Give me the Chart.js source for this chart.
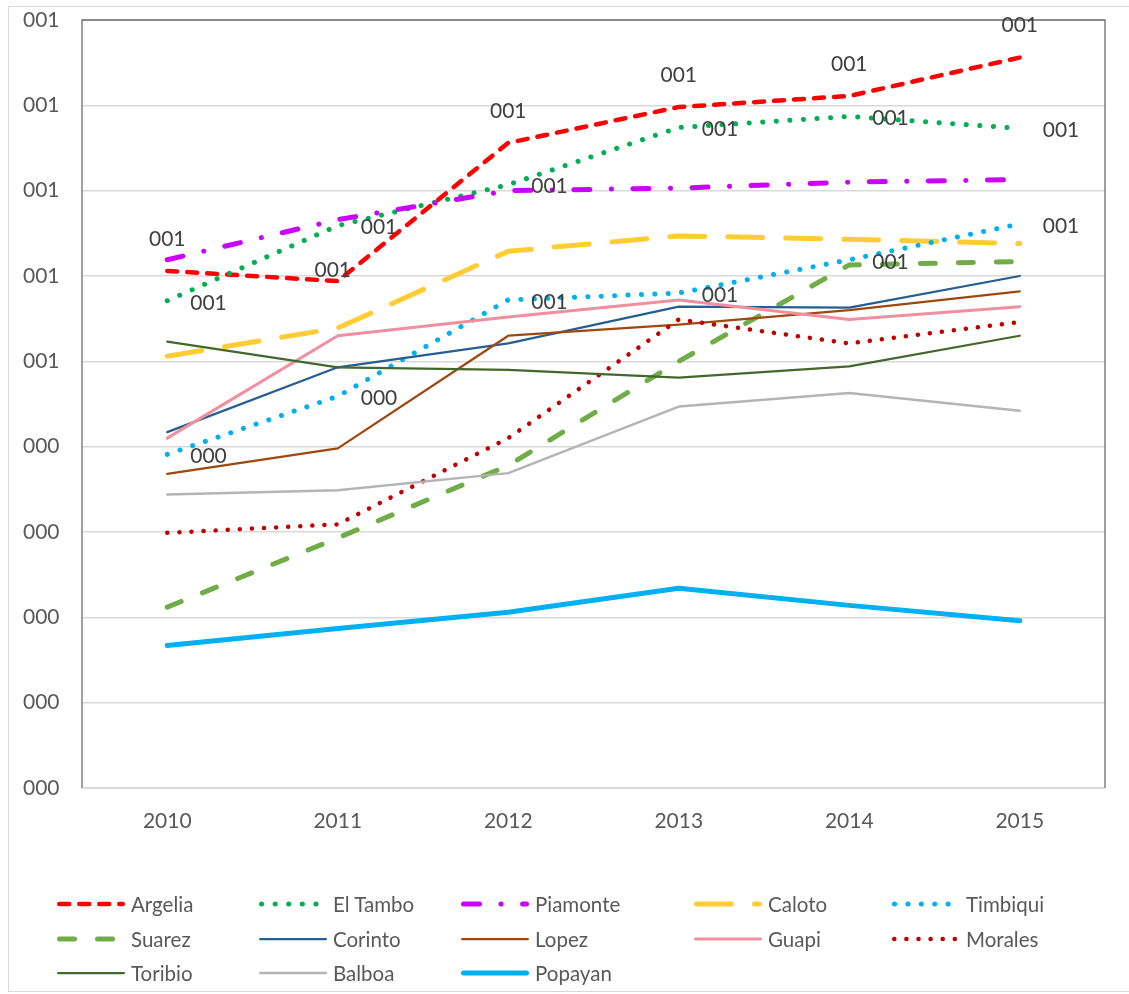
<!DOCTYPE html>
<html>
<head>
<meta charset="utf-8">
<script src="https://cdn.jsdelivr.net/npm/chart.js@4/dist/chart.umd.min.js"></script>
<style>
  html, body { margin: 0; padding: 0; background: #fff; }
  body { width: 1129px; height: 994px; position: relative; overflow: hidden; font-family: Lato, "Open Sans", sans-serif; }
  #frame { position: absolute; left: 8px; top: 6px; width: 1140px; height: 986px; border: 1px solid #D9D9D9; box-sizing: border-box; }
  #wrap { position: absolute; left: 0; top: 0; width: 1129px; height: 994px; }
  .leg { position: absolute; height: 24px; display: flex; align-items: center; color: #595959; font-size: 20.5px; white-space: nowrap; }
  .leg svg { margin-right: 5px; flex: none; }
</style>
</head>
<body>
<div id="frame"></div>
<div id="wrap"><canvas id="c" width="1129" height="994"></canvas></div>
<div id="legend"></div>
<script>
const years = ['2010', '2011', '2012', '2013', '2014', '2015'];
const yTickLabels = ['000', '000', '000', '000', '000', '001', '001', '001', '001', '001'];

const argelia  = [0.606, 0.594, 0.756, 0.798, 0.811, 0.856];
const elTambo  = [0.571, 0.659, 0.707, 0.774, 0.787, 0.773];
const piamonte = [0.619, 0.666, 0.700, 0.703, 0.710, 0.713];
const caloto   = [0.506, 0.539, 0.629, 0.647, 0.643, 0.638];
const timbiqui = [0.391, 0.459, 0.572, 0.580, 0.619, 0.661];
const suarez   = [0.212, 0.293, 0.378, 0.500, 0.613, 0.617];
const corinto  = [0.417, 0.493, 0.521, 0.564, 0.563, 0.600];
const lopez    = [0.368, 0.398, 0.530, 0.543, 0.560, 0.582];
const guapi    = [0.410, 0.530, 0.552, 0.572, 0.549, 0.564];
const morales  = [0.299, 0.309, 0.410, 0.549, 0.521, 0.546];
const toribio  = [0.523, 0.493, 0.490, 0.481, 0.494, 0.530];
const balboa   = [0.344, 0.349, 0.369, 0.447, 0.463, 0.442];
const popayan  = [0.167, 0.187, 0.206, 0.234, 0.214, 0.196];

const seriesNames = ['Argelia','El Tambo','Piamonte','Caloto','Timbiqui','Suarez','Corinto','Lopez','Guapi','Morales','Toribio','Balboa','Popayan'];
const seriesData = [argelia, elTambo, piamonte, caloto, timbiqui, suarez, corinto, lopez, guapi, morales, toribio, balboa, popayan];

const styles = [
  { color: '#FF0000', width: 4.5, dash: [10, 10] },
  { color: '#00B050', width: 5,   dash: [0.1, 13.5] },
  { color: '#CC00FF', width: 5,   dash: [16, 21.5, 0.1, 21.5] },
  { color: '#FFCC33', width: 5,   dash: [35, 23] },
  { color: '#00B0F0', width: 5,   dash: [0.1, 13.3] },
  { color: '#70AD47', width: 5,   dash: [15, 23] },
  { color: '#255E91', width: 2.25, dash: [] },
  { color: '#9E480E', width: 2.25, dash: [] },
  { color: '#EF8FA0', width: 3,   dash: [] },
  { color: '#C00000', width: 4.5, dash: [0.1, 12] },
  { color: '#43682B', width: 2.25, dash: [] },
  { color: '#B4B4B4', width: 2.5, dash: [] },
  { color: '#00B0F0', width: 5,   dash: [] }
];

// data-label placement per series (style only)
const labelSetup = {
  0: { pos: 'above', overrides: { 1: [-5, -11] } },
  1: { pos: 'right' },
  4: { pos: 'right' }
};

const datasets = seriesNames.map((name, i) => ({
  label: name,
  data: seriesData[i],
  borderColor: styles[i].color,
  backgroundColor: styles[i].color,
  borderWidth: styles[i].width,
  borderDash: styles[i].dash,
  borderCapStyle: 'round',
  borderJoinStyle: 'round',
  pointRadius: 0,
  pointHoverRadius: 0,
  tension: 0,
  fill: false,
  order: -i
}));

const frameLines = {
  id: 'frameLines',
  beforeDatasetsDraw(chart) {
    const a = chart.chartArea, ctx = chart.ctx;
    ctx.save();
    ctx.strokeStyle = '#D9D9D9';
    ctx.lineWidth = 1.5;
    ctx.beginPath();
    ctx.moveTo(a.left, a.bottom); ctx.lineTo(a.right, a.bottom);
    ctx.stroke();
    ctx.strokeStyle = '#6E6E6E';
    ctx.lineWidth = 1.3;
    ctx.beginPath();
    ctx.moveTo(a.left, a.bottom); ctx.lineTo(a.left, a.top); ctx.lineTo(a.right, a.top); ctx.lineTo(a.right, a.bottom);
    ctx.stroke();
    ctx.restore();
  }
};

const dataLabels = {
  id: 'dataLabels',
  afterDatasetsDraw(chart) {
    const ctx = chart.ctx;
    ctx.save();
    ctx.font = '21px Lato, "Open Sans", sans-serif';
    ctx.fillStyle = '#404040';
    ctx.textBaseline = 'middle';
    Object.keys(labelSetup).forEach(k => {
      const idx = +k, cfg = labelSetup[k];
      const meta = chart.getDatasetMeta(idx);
      meta.data.forEach((pt, j) => {
        const v = chart.data.datasets[idx].data[j];
        const txt = String(Math.round(v)).padStart(3, '0');
        let x = pt.x, y = pt.y;
        if (cfg.pos === 'above') { ctx.textAlign = 'center'; y -= 32; }
        else { ctx.textAlign = 'left'; x += 23; y += 2; }
        if (cfg.overrides && cfg.overrides[j]) {
          ctx.textAlign = 'center';
          x = pt.x + cfg.overrides[j][0];
          y = pt.y + cfg.overrides[j][1];
        }
        ctx.fillText(txt, x, y);
      });
    });
    ctx.restore();
  }
};

new Chart(document.getElementById('c'), {
  type: 'line',
  data: { labels: years, datasets },
  options: {
    responsive: false,
    animation: false,
    events: [],
    layout: { padding: { left: 23, top: 20, right: 24, bottom: 156 } },
    plugins: { legend: { display: false }, tooltip: { enabled: false } },
    scales: {
      x: {
        offset: true,
        grid: { display: false, drawTicks: false },
        border: { display: false },
        ticks: { color: '#595959', font: { family: 'Lato', size: 21 }, padding: 21, maxRotation: 0 },
        afterFit(s) { s.height = 50; }
      },
      y: {
        min: 0, max: 0.9,
        grid: { color: '#D9D9D9', lineWidth: 1.5, drawTicks: false },
        border: { display: false },
        ticks: {
          stepSize: 0.1,
          color: '#595959',
          font: { family: 'Lato', size: 21 },
          padding: 0,
          crossAlign: 'far',
          callback: (v, i) => yTickLabels[i]
        },
        afterFit(s) { s.width = 59; }
      }
    }
  },
  plugins: [frameLines, dataLabels]
});

// HTML legend
const legendCols = [58, 260, 462, 695, 893];
const legendRows = [904, 939, 973];
const legendEl = document.getElementById('legend');
seriesNames.forEach((name, i) => {
  const col = i % 5, row = Math.floor(i / 5);
  const st = styles[i];
  const d = document.createElement('div');
  d.className = 'leg';
  d.style.left = (legendCols[col] - 2) + 'px';
  d.style.top = (legendRows[row] - 12) + 'px';
  const w = 70;
  const dashAttr = st.dash.length ? `stroke-dasharray="${st.dash.join(' ')}"` : '';
  d.innerHTML = `<svg width="${w}" height="12"><line x1="${st.width/2 + 1}" y1="6" x2="${w - st.width/2 - 1}" y2="6" stroke="${st.color}" stroke-width="${st.width}" stroke-linecap="round" ${dashAttr}/></svg><span>${name}</span>`;
  legendEl.appendChild(d);
});
</script>
</body>
</html>
